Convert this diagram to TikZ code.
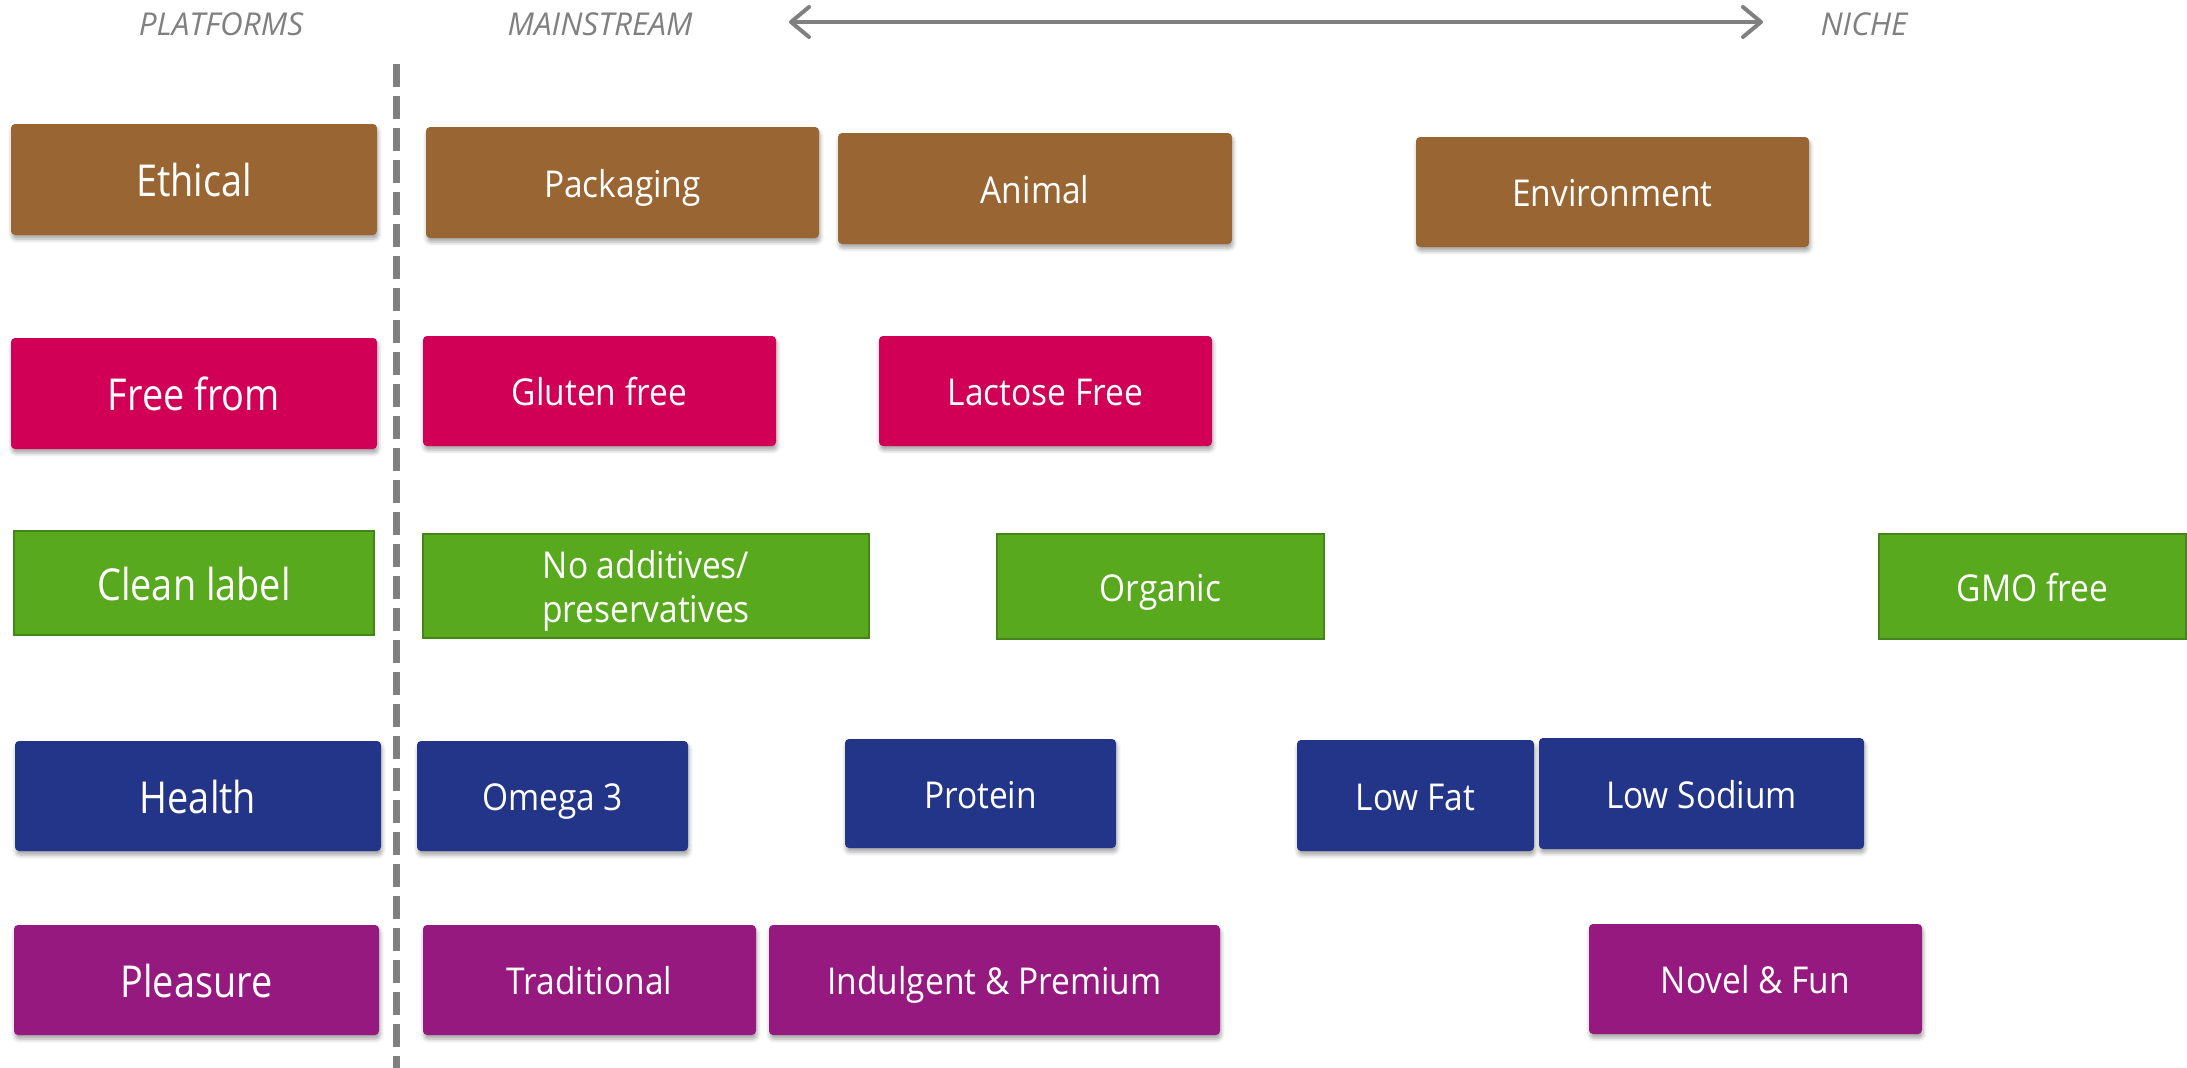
\documentclass[tikz,border=0pt]{standalone}
\usepackage{fontspec}
\setmainfont{Open Sans}[FakeStretch=0.86]
\newfontfamily\topicfont{Open Sans}[FakeStretch=0.905]
\newfontfamily\headfont{Open Sans}[FakeStretch=1.0]
\usetikzlibrary{arrows.meta,shadows.blur}

\definecolor{ethicbrown}{HTML}{996633}
\definecolor{freepink}{HTML}{D10056}
\definecolor{cleangreen}{HTML}{58A91E}
\definecolor{cleanedge}{HTML}{44851A}
\definecolor{healthblue}{HTML}{233588}
\definecolor{pleasurepurple}{HTML}{96197F}
\definecolor{axisgray}{HTML}{808080}

\tikzset{
  tile/.style={rectangle, inner sep=0pt, outer sep=0pt, text=white,
    align=center, rounded corners=4pt,
    blur shadow={shadow xshift=1pt, shadow yshift=-4pt,
      shadow blur radius=4pt, shadow opacity=35}},
  bigtext/.style={text height=45pt, text depth=11pt, font=\fontsize{44}{52}\selectfont},
  smalltext/.style={text height=38pt, text depth=9pt, font=\topicfont\fontsize{37}{44}\selectfont},
  platform/.style={tile, bigtext},
  topic/.style={tile, smalltext},
  flat/.style={rectangle, inner sep=0pt, outer sep=0pt, text=white,
    align=center, fill=cleangreen, draw=cleanedge, line width=2.5pt},
  flatplatform/.style={flat, bigtext},
  flattopic/.style={flat, smalltext},
  flatpair/.style={flat, font=\topicfont\fontsize{37}{44}\selectfont},
  header/.style={text=axisgray, font=\headfont\itshape\fontsize{31.5}{38}\selectfont},
  wh/.style 2 args={minimum width=#1pt, minimum height=#2pt},
}

\begin{document}
\begin{tikzpicture}[x=1pt,y=-1pt]
\useasboundingbox (0,0) rectangle (2187,1068);

% column headings and the mainstream-to-niche axis
\node[header] (hplat) at (221,24) {PLATFORMS};
\node[header] (hmain) at (600,24) {MAINSTREAM};
\node[header] (hniche) at (1864,24) {NICHE};
\coordinate (axl) at (789,22);
\coordinate (axr) at (1763,22);
\draw[axisgray, line width=4pt,
  {Straight Barb[length=18pt,width=30pt,line cap=round,line join=round]}-{Straight Barb[length=18pt,width=30pt,line cap=round,line join=round]}]
  (axl) -- (axr);

% divider between the platforms and their topics
\coordinate (divtop) at (396,64);
\coordinate (divbot) at (396,1068);
\draw[axisgray, line width=7pt, dash pattern=on 23pt off 9pt] (divtop) -- (divbot);

% Ethical
\node[platform, fill=ethicbrown, wh={366}{111}] (ethical) at (194,179.5) {Ethical};
\node[topic, fill=ethicbrown, wh={393}{111}] (packaging) at (622.5,182.5) {Packaging};
\node[topic, fill=ethicbrown, wh={394}{111}] (animal) at (1035,188.5) {Animal};
\node[topic, fill=ethicbrown, wh={393}{110}] (environment) at (1612.5,192) {Environment};

% Free from
\node[platform, fill=freepink, wh={366}{111}] (freefrom) at (194,393.5) {Free from};
\node[topic, fill=freepink, wh={353}{110}] (gluten) at (599.5,391) {Gluten free};
\node[topic, fill=freepink, wh={333}{110}] (lactose) at (1045.5,391) {Lactose Free};

% Clean label
\node[flatplatform, wh={360}{104}] (clean) at (194,583) {Clean label};
\node[flatpair, wh={446}{104}] (noadd) at (646,586)
  {\raisebox{-6pt}[\height][\depth]{\begin{tabular}{@{}c@{}}No additives/\\preservatives\end{tabular}}};
\node[flattopic, wh={327}{105}] (organic) at (1160.5,586.5) {Organic};
\node[flattopic, wh={307}{105}] (gmo) at (2032.5,586.5) {GMO free};

% Health
\node[platform, fill=healthblue, wh={366}{110}] (health) at (198,796) {Health};
\node[topic, fill=healthblue, wh={271}{110}] (omega) at (552.5,796) {Omega 3};
\node[topic, fill=healthblue, wh={271}{109}] (protein) at (980.5,793.5) {Protein};
\node[topic, fill=healthblue, wh={237}{111}] (lowfat) at (1415.5,795.5) {Low Fat};
\node[topic, fill=healthblue, wh={325}{111}] (lowsodium) at (1701.5,793.5) {Low Sodium};

% Pleasure
\node[platform, fill=pleasurepurple, wh={365}{110}] (pleasure) at (196.5,980) {Pleasure};
\node[topic, fill=pleasurepurple, wh={333}{110}] (traditional) at (589.5,980) {Traditional};
\node[topic, fill=pleasurepurple, wh={451}{110}] (indulgent) at (994.5,980) {Indulgent \& Premium};
\node[topic, fill=pleasurepurple, wh={333}{110}] (novel) at (1755.5,979) {Novel \& Fun};
\end{tikzpicture}
\end{document}
